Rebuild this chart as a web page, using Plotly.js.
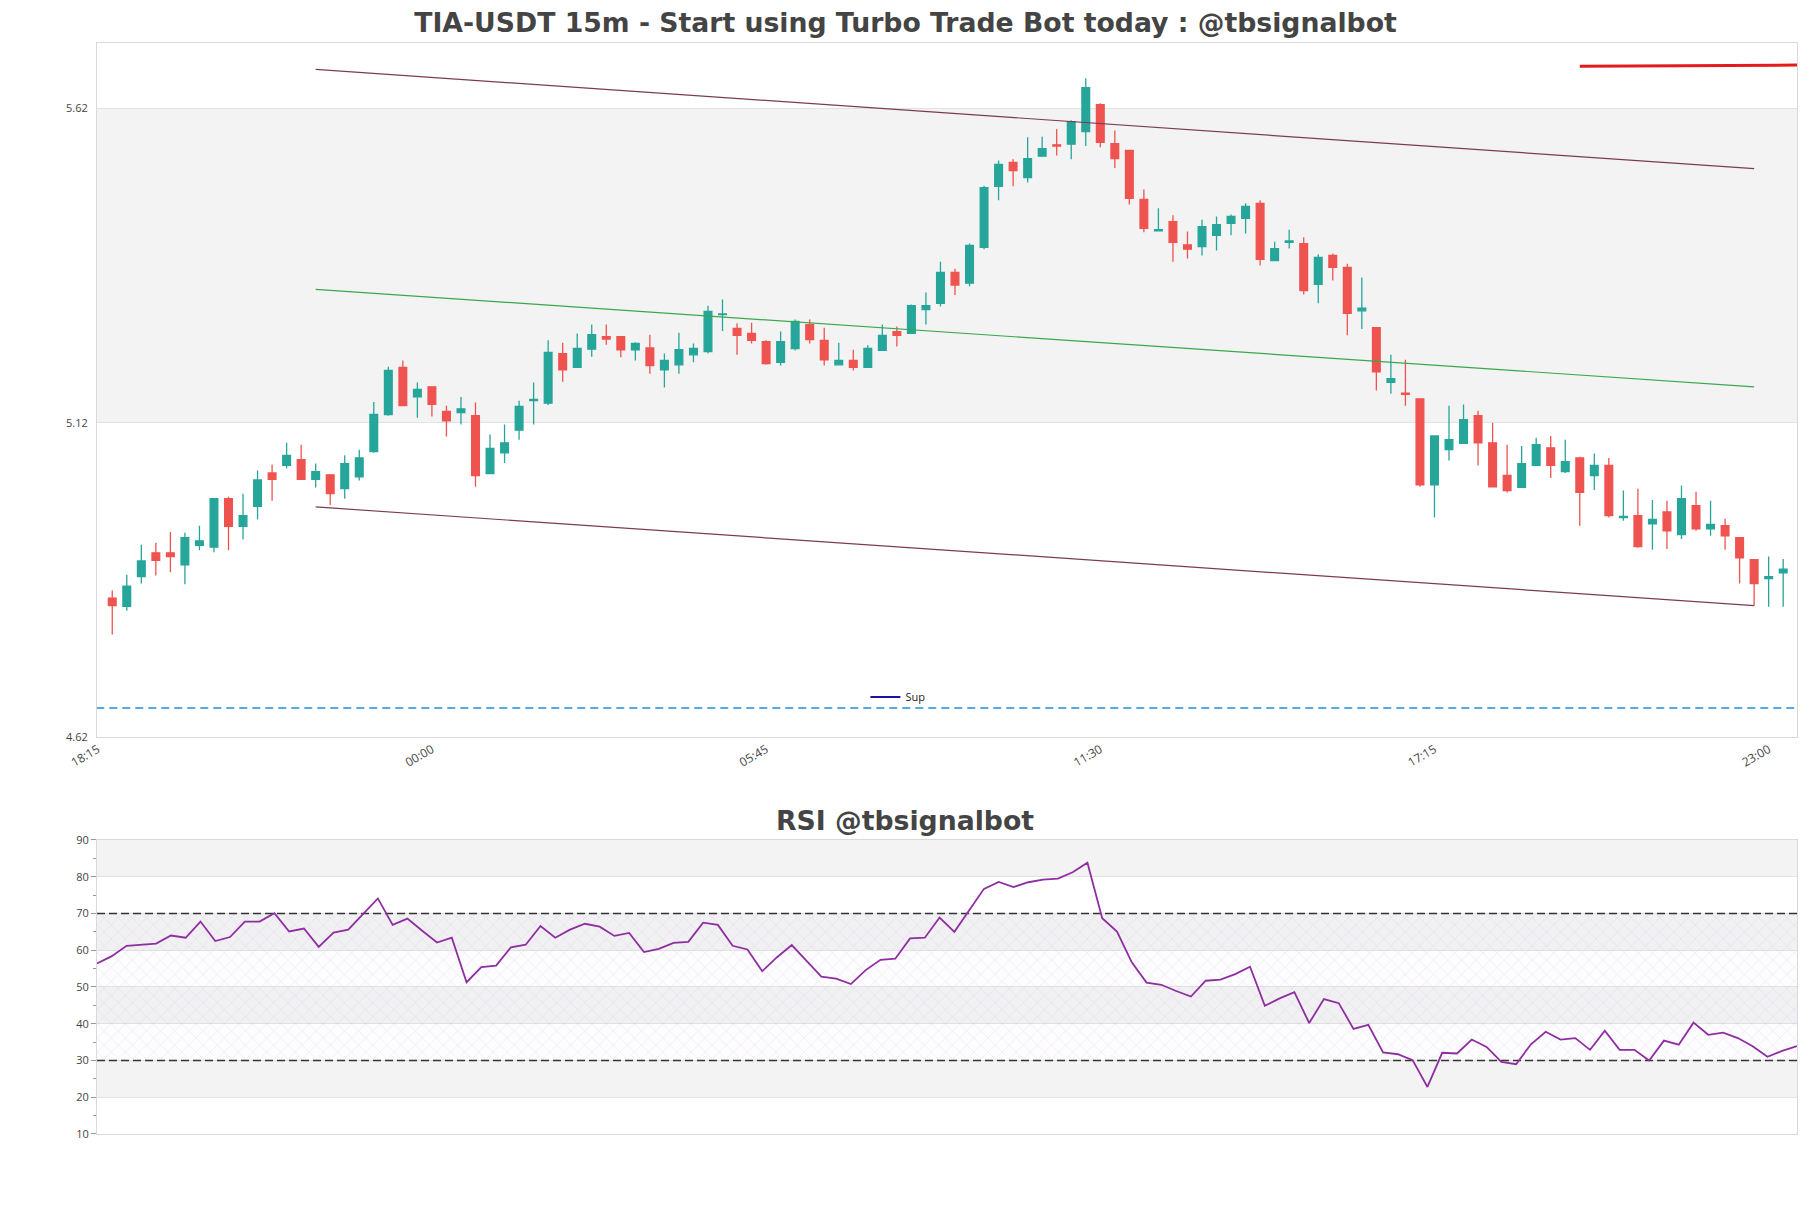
<!DOCTYPE html>
<html>
<head>
<meta charset="utf-8">
<script src="https://cdn.plot.ly/plotly-3.0.1.min.js"></script>
<style>
  html, body { margin: 0; padding: 0; background: #fff; }
  #chart { width: 1811px; height: 1208px; }
</style>
</head>
<body>
<div id="chart"></div>
<script>
// 15m candles, first bar at 18:30
const opens = [4.841, 4.828, 4.875, 4.913, 4.913, 4.894, 4.925, 4.922, 4.999, 4.955,
  4.987, 5.040, 5.052, 5.061, 5.030, 5.037, 5.015, 5.034, 5.074, 5.133,
  5.208, 5.161, 5.177, 5.138, 5.136, 5.131, 5.039, 5.072, 5.108, 5.155,
  5.151, 5.230, 5.208, 5.237, 5.257, 5.257, 5.236, 5.239, 5.204, 5.212,
  5.228, 5.233, 5.292, 5.270, 5.262, 5.249, 5.216, 5.238, 5.276, 5.251,
  5.212, 5.219, 5.208, 5.235, 5.265, 5.262, 5.300, 5.310, 5.359, 5.342,
  5.399, 5.496, 5.534, 5.510, 5.544, 5.562, 5.563, 5.583, 5.626, 5.564,
  5.553, 5.475, 5.425, 5.440, 5.403, 5.400, 5.418, 5.437, 5.445, 5.469,
  5.378, 5.407, 5.405, 5.340, 5.386, 5.367, 5.298, 5.271, 5.184, 5.167,
  5.158, 5.021, 5.077, 5.087, 5.131, 5.088, 5.036, 5.017, 5.052, 5.080,
  5.042, 5.064, 5.036, 5.052, 4.969, 4.972, 4.959, 4.978, 4.942, 4.988,
  4.951, 4.956, 4.937, 4.902, 4.872, 4.881];
const highs = [4.853, 4.878, 4.926, 4.929, 4.946, 4.945, 4.956, 5.000, 5.002, 5.007,
  5.044, 5.053, 5.088, 5.085, 5.055, 5.038, 5.068, 5.077, 5.153, 5.209,
  5.219, 5.184, 5.178, 5.147, 5.161, 5.152, 5.101, 5.117, 5.155, 5.184,
  5.251, 5.247, 5.262, 5.276, 5.276, 5.258, 5.248, 5.260, 5.230, 5.263,
  5.246, 5.306, 5.316, 5.278, 5.279, 5.251, 5.265, 5.284, 5.284, 5.271,
  5.247, 5.236, 5.243, 5.276, 5.273, 5.308, 5.327, 5.376, 5.365, 5.405,
  5.497, 5.537, 5.539, 5.574, 5.575, 5.587, 5.601, 5.668, 5.628, 5.585,
  5.554, 5.491, 5.461, 5.450, 5.424, 5.443, 5.448, 5.451, 5.469, 5.474,
  5.408, 5.427, 5.415, 5.388, 5.389, 5.373, 5.351, 5.272, 5.228, 5.220,
  5.159, 5.100, 5.147, 5.149, 5.139, 5.120, 5.085, 5.083, 5.096, 5.099,
  5.093, 5.066, 5.071, 5.064, 5.012, 5.015, 4.997, 4.996, 5.020, 5.010,
  4.996, 4.967, 4.938, 4.903, 4.907, 4.903];
const lows = [4.783, 4.821, 4.864, 4.877, 4.882, 4.863, 4.917, 4.914, 4.917, 4.934,
  4.966, 4.996, 5.047, 5.029, 5.017, 4.989, 4.999, 5.028, 5.072, 5.131,
  5.146, 5.128, 5.130, 5.098, 5.117, 5.018, 5.038, 5.056, 5.093, 5.117,
  5.148, 5.185, 5.207, 5.225, 5.244, 5.224, 5.219, 5.198, 5.176, 5.198,
  5.216, 5.230, 5.266, 5.228, 5.246, 5.212, 5.211, 5.235, 5.246, 5.211,
  5.211, 5.203, 5.207, 5.234, 5.241, 5.261, 5.276, 5.305, 5.323, 5.337,
  5.396, 5.474, 5.496, 5.502, 5.543, 5.545, 5.539, 5.560, 5.558, 5.525,
  5.467, 5.423, 5.425, 5.376, 5.381, 5.386, 5.394, 5.418, 5.421, 5.370,
  5.377, 5.397, 5.324, 5.310, 5.346, 5.259, 5.269, 5.171, 5.166, 5.147,
  5.018, 4.969, 5.060, 5.086, 5.052, 5.017, 5.009, 5.016, 5.051, 5.032,
  5.040, 4.956, 5.013, 4.969, 4.964, 4.921, 4.918, 4.919, 4.935, 4.948,
  4.940, 4.918, 4.864, 4.829, 4.827, 4.827];
const closes = [4.829, 4.860, 4.900, 4.901, 4.907, 4.937, 4.932, 4.999, 4.955, 4.972,
  5.029, 5.030, 5.068, 5.030, 5.042, 5.007, 5.055, 5.064, 5.133, 5.203,
  5.147, 5.173, 5.149, 5.123, 5.142, 5.036, 5.079, 5.088, 5.146, 5.157,
  5.232, 5.204, 5.238, 5.260, 5.253, 5.236, 5.246, 5.211, 5.219, 5.236,
  5.238, 5.297, 5.293, 5.259, 5.251, 5.214, 5.249, 5.281, 5.252, 5.220,
  5.219, 5.208, 5.238, 5.259, 5.259, 5.306, 5.306, 5.359, 5.339, 5.402,
  5.494, 5.531, 5.521, 5.540, 5.556, 5.560, 5.599, 5.653, 5.566, 5.540,
  5.477, 5.429, 5.427, 5.407, 5.396, 5.432, 5.435, 5.448, 5.464, 5.380,
  5.397, 5.409, 5.330, 5.383, 5.367, 5.294, 5.302, 5.201, 5.190, 5.165,
  5.021, 5.099, 5.093, 5.125, 5.088, 5.018, 5.012, 5.055, 5.085, 5.052,
  5.058, 5.009, 5.052, 4.972, 4.971, 4.923, 4.966, 4.948, 4.999, 4.951,
  4.958, 4.940, 4.905, 4.864, 4.875, 4.887];

const rsiValues = [56.4, 58.4, 61.2, 61.5, 61.8, 64.0, 63.4, 67.8, 62.5, 63.6,
  67.8, 67.8, 70.1, 65.1, 65.9, 60.9, 64.8, 65.6, 70.0, 74.1,
  66.9, 68.6, 65.3, 62.1, 63.4, 51.3, 55.4, 55.8, 60.8, 61.5,
  66.6, 63.4, 65.6, 67.2, 66.4, 63.9, 64.7, 59.5, 60.4, 62.0,
  62.3, 67.5, 66.9, 61.2, 60.2, 54.3, 58.1, 61.4, 57.1, 52.8,
  52.3, 50.8, 54.6, 57.4, 57.7, 63.2, 63.4, 68.9, 65.0, 70.7,
  76.7, 78.6, 77.2, 78.5, 79.2, 79.5, 81.2, 83.8, 68.7, 65.1,
  56.7, 51.2, 50.6, 48.9, 47.4, 51.7, 52.0, 53.5, 55.5, 44.9,
  46.9, 48.6, 40.2, 46.7, 45.6, 38.6, 39.7, 32.2, 31.7, 30.1,
  22.8, 32.1, 31.9, 35.7, 33.7, 29.6, 29.0, 34.4, 37.8, 35.7,
  36.1, 32.9, 38.1, 32.9, 32.9, 30.0, 35.4, 34.3, 40.3, 37.0,
  37.6, 36.1, 33.9, 31.0, 32.6, 33.9];

const tickLabels = ['18:15', '00:00', '05:45', '11:30', '17:15', '23:00'];
const priceTicks = [4.62, 5.12, 5.62];
const rsiTicks = [10, 20, 30, 40, 50, 60, 70, 80, 90];
const rsiLevels = [30, 70];

// channel lines (bar index -> price)
const trendSteps = [14, 113];
const trendTop = [5.682, 5.524];
const trendMid = [5.332, 5.177];
const trendBottom = [4.986, 4.829];
const supLevel = 4.666;
const redSteps = [101, 116.6];
const redLevel = [5.687, 5.689];

const BAR = 15 * 60 * 1000;
const t0 = Date.UTC(2024, 0, 1, 18, 30);
const at = step => new Date(t0 + step * BAR).toISOString().replace('T', ' ').slice(0, 19);
const times = opens.map((_, i) => at(i));
const lastStep = opens.length - 1;

const tickFont = {family: 'Open Sans', size: 11, color: '#444'};
const frame = {showline: true, mirror: true, linecolor: '#d9d9d9', linewidth: 1, zeroline: false};

const candles = {
    type: 'candlestick', x: times, open: opens, high: highs, low: lows, close: closes,
    increasing: {line: {color: '#26a69a', width: 1.3}, fillcolor: '#26a69a'},
    decreasing: {line: {color: '#ef5350', width: 1.3}, fillcolor: '#ef5350'},
    whiskerwidth: 0, showlegend: false, hoverinfo: 'skip'
};

const line = (steps, ys, color, width, dash) => ({
    type: 'scatter', mode: 'lines', x: steps.map(at), y: ys,
    line: {color: color, width: width, dash: dash || 'solid'},
    showlegend: false, hoverinfo: 'skip'
});

const traces = [
    candles,
    line(trendSteps, trendTop, '#7a3b55', 1.2),
    line(trendSteps, trendMid, '#3aa84c', 1.2),
    line(trendSteps, trendBottom, '#7a3b55', 1.2),
    line([-1.1, 116.5], [supLevel, supLevel], '#1f8fd6', 1.4, '8px,5px'),
    line(redSteps, redLevel, '#e41a1c', 3),
    // legend entry only
    {type: 'scatter', mode: 'lines', x: [at(-1)], y: [supLevel], name: 'Sup',
     line: {color: '#1c14a0', width: 2}, showlegend: true, hoverinfo: 'skip'}
];

// RSI panel
const rsiLow = {
    type: 'scatter', mode: 'lines', xaxis: 'x2', yaxis: 'y2',
    x: [times[0], times[lastStep]], y: [rsiLevels[0], rsiLevels[0]],
    line: {color: '#333', width: 1.3, dash: '8px,4px'}, showlegend: false, hoverinfo: 'skip'
};
const rsiHigh = {
    type: 'scatter', mode: 'lines', xaxis: 'x2', yaxis: 'y2',
    x: [times[0], times[lastStep]], y: [rsiLevels[1], rsiLevels[1]],
    fill: 'tonexty', fillcolor: 'rgba(150,100,180,0.03)',
    fillpattern: {shape: 'x', size: 10, solidity: 0.05, fgcolor: 'rgba(150,120,180,0.4)', bgcolor: 'rgba(150,100,180,0.025)'},
    line: {color: '#333', width: 1.3, dash: '8px,4px'}, showlegend: false, hoverinfo: 'skip'
};
const rsiLine = {
    type: 'scatter', mode: 'lines', xaxis: 'x2', yaxis: 'y2', x: times, y: rsiValues,
    line: {color: '#8e2ea0', width: 1.8}, showlegend: false, hoverinfo: 'skip'
};
traces.push(rsiLow, rsiHigh, rsiLine);

// alternating background bands between tick values
const bands = [];
const addBands = (ticks, yref) => {
    for (let i = 0; i < ticks.length - 1; i++) {
        if (i % 2 === 1) {
            bands.push({type: 'rect', xref: 'paper', x0: 0, x1: 1, yref: yref,
                y0: ticks[i], y1: ticks[i + 1], fillcolor: '#f3f3f3', line: {width: 0}, layer: 'below'});
        }
    }
};
addBands(priceTicks, 'y');
addBands(rsiTicks, 'y2');

const layout = {
    width: 1811, height: 1208, autosize: false,
    margin: {l: 97, r: 14, t: 43, b: 74},
    paper_bgcolor: '#fff', plot_bgcolor: 'rgba(0,0,0,0)',
    font: {family: 'Open Sans', size: 11, color: '#444'},
    title: {text: '<b>TIA-USDT 15m - Start using Turbo Trade Bot today : @tbsignalbot</b>',
        font: {family: 'DejaVu Sans', size: 26.7, color: '#444'},
        x: 0.5, xanchor: 'center', y: 1 - 23 / 1208, yanchor: 'middle'},
    showlegend: true,
    legend: {x: 0.452, y: 0.4005, xanchor: 'left', yanchor: 'middle', bgcolor: 'rgba(0,0,0,0)',
        font: {family: 'Open Sans', size: 11, color: '#222'}},
    boxgap: 0.24,
    xaxis: Object.assign({type: 'date', anchor: 'y', domain: [0, 1],
        range: [at(-1.05), at(115.95)],
        tickvals: tickLabels.map((_, k) => at(-1 + 23 * k)), ticktext: tickLabels,
        tickangle: -30, tickfont: {family: 'Open Sans', size: 12, color: '#444'}, showgrid: false, ticks: '',
        rangeslider: {visible: false}}, frame),
    yaxis: Object.assign({anchor: 'x', domain: [0.3639, 1], range: [4.62, 5.724],
        tickvals: priceTicks, ticktext: priceTicks.map(v => v.toFixed(2)), tickfont: tickFont,
        showgrid: true, gridcolor: '#e2e2e2', ticks: 'outside', ticklen: 6, tickcolor: 'rgba(0,0,0,0)'}, frame),
    xaxis2: Object.assign({type: 'date', anchor: 'y2', domain: [0, 1],
        range: [times[0], times[lastStep]], showticklabels: false, showgrid: false, ticks: ''}, frame),
    yaxis2: Object.assign({anchor: 'x2', domain: [0, 0.2695], range: [rsiTicks[0], rsiTicks[rsiTicks.length - 1]],
        tickvals: rsiTicks, tickfont: tickFont, showgrid: true, gridcolor: '#e2e2e2',
        ticks: 'outside', ticklen: 5, tickcolor: '#999',
        minor: {tickvals: rsiTicks.slice(0, -1).map(v => v + 5), ticks: 'outside', ticklen: 3, tickcolor: '#999', showgrid: false}}, frame),
    shapes: bands,
    annotations: [{text: '<b>RSI @tbsignalbot</b>', xref: 'paper', yref: 'paper',
        x: 0.4753, y: 0.2878, xanchor: 'center', yanchor: 'middle', showarrow: false,
        font: {family: 'DejaVu Sans', size: 26.7, color: '#444'}}]
};

Plotly.newPlot('chart', traces, layout, {displayModeBar: false, staticPlot: true});
</script>
</body>
</html>
